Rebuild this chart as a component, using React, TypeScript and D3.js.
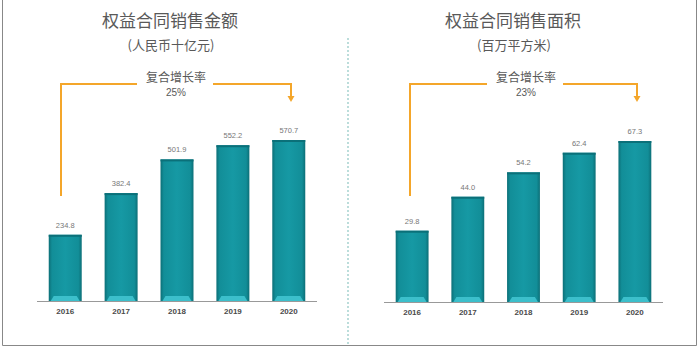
import React from "react";
import * as d3 from "d3";

const years = ["2016", "2017", "2018", "2019", "2020"];
const salesAmount = [234.8, 382.4, 501.9, 552.2, 570.7];
const salesArea = [29.8, 44.0, 54.2, 62.4, 67.3];
const titles = ["权益合同销售金额", "权益合同销售面积"];
const subtitles = ["(人民币十亿元)", "(百万平方米)"];
const cagrLabel = "复合增长率";
const cagrValues = ["25%", "23%"];

const W = 699;
const H = 350;
const ORANGE = "#F4A62A";
const CJK = "'Noto Sans CJK SC', 'Noto Sans', sans-serif";
const LAT = "'Liberation Sans', Arial, sans-serif";

type PanelProps = {
  values: number[];
  title: string;
  subtitle: string;
  cagr: string;
  x0: number;
  x1: number;
  baseline: number;
  topY: number;
  titleX: number;
  cagrX: number;
  bracketL: number;
  gapL: number;
  gapR: number;
  bracketR: number;
  idx: number;
};

function Panel(p: PanelProps) {
  const x = d3.scaleBand<string>().domain(years).range([p.x0, p.x1]).paddingInner(0.41).paddingOuter(0.21);
  const maxV = d3.max(p.values) as number;
  const y = d3.scaleLinear().domain([0, maxV]).range([p.baseline, p.topY]);
  const bw = x.bandwidth();
  const gid = `barGrad${p.idx}`;
  const bracketY = 84;
  return (
    <g>
      <defs>
        <linearGradient id={gid} x1="0" x2="1" y1="0" y2="0">
          <stop offset="0" stopColor="#0c6f77" />
          <stop offset="0.1" stopColor="#128e98" />
          <stop offset="0.5" stopColor="#1699a4" />
          <stop offset="0.9" stopColor="#128e98" />
          <stop offset="1" stopColor="#0c6f77" />
        </linearGradient>
      </defs>
      <text x={p.titleX} y={27} textAnchor="middle" fontFamily={CJK} fontSize={17} fill="#595959">{p.title}</text>
      <text x={p.titleX + 1} y={50} textAnchor="middle" fontFamily={CJK} fontSize={13} fill="#595959">{p.subtitle}</text>
      <text x={p.cagrX} y={82} textAnchor="middle" fontFamily={CJK} fontSize={12} fill="#595959">{cagrLabel}</text>
      <text x={p.cagrX} y={96} textAnchor="middle" fontFamily={LAT} fontSize={10} fill="#595959">{p.cagr}</text>
      <path d={`M${p.bracketL},196 V${bracketY} H${p.gapL}`} fill="none" stroke={ORANGE} strokeWidth={2} />
      <path d={`M${p.gapR},${bracketY} H${p.bracketR} V97`} fill="none" stroke={ORANGE} strokeWidth={2} />
      <path d={`M${p.bracketR - 3.5},96 L${p.bracketR + 3.5},96 L${p.bracketR},102 Z`} fill={ORANGE} />
      {p.values.map((v, i) => {
        const bx = x(years[i]) as number;
        const by = y(v);
        const bh = p.baseline - by;
        return (
          <g key={years[i]}>
            <rect x={bx} y={by} width={bw} height={bh} fill={`url(#${gid})`} />
            <rect x={bx} y={by} width={bw} height={2} fill="#0b7079" />
            <path
              d={`M${bx + 2},${p.baseline} L${bx + 5},${p.baseline - 5} L${bx + bw - 5},${p.baseline - 5} L${bx + bw - 2},${p.baseline} Z`}
              fill="#3cbfcb"
            />
            <text x={bx + bw / 2} y={by - 7} textAnchor="middle" fontFamily={LAT} fontSize={7.5} fill="#777">{v.toFixed(1)}</text>
            <text x={bx + bw / 2} y={p.baseline + 13} textAnchor="middle" fontFamily={LAT} fontSize={8} fontWeight="bold" fill="#4a4a4a">{years[i]}</text>
          </g>
        );
      })}
      <line x1={p.x0} x2={p.x1} y1={p.baseline + 0.5} y2={p.baseline + 0.5} stroke="#999" strokeWidth={1} />
    </g>
  );
}

export default function App() {
  return (
    <svg width={W} height={H} viewBox={`0 0 ${W} ${H}`} style={{ position: "absolute", left: 0, top: 0, background: "#fff" }}>
      <rect x={0} y={0} width={W} height={H} fill="#fff" />
      <line x1={2.5} x2={2.5} y1={0} y2={345.5} stroke="#888" strokeWidth={1} />
      <line x1={696.5} x2={696.5} y1={0} y2={345.5} stroke="#888" strokeWidth={1} />
      <line x1={2.5} x2={696.5} y1={345.5} y2={345.5} stroke="#888" strokeWidth={1} />
      <line x1={348} x2={348} y1={38} y2={345} stroke="#8fc7c4" strokeWidth={1.2} strokeDasharray="2,2" />
      <Panel values={salesAmount} title={titles[0]} subtitle={subtitles[0]} cagr={cagrValues[0]}
        x0={37} x1={317} baseline={301} topY={140} titleX={170} cagrX={176}
        bracketL={61} gapL={137} gapR={213} bracketR={291} idx={0} />
      <Panel values={salesArea} title={titles[1]} subtitle={subtitles[1]} cagr={cagrValues[1]}
        x0={384} x1={663} baseline={302} topY={141} titleX={513} cagrX={526}
        bracketL={410} gapL={487} gapR={563} bracketR={637} idx={1} />
    </svg>
  );
}
